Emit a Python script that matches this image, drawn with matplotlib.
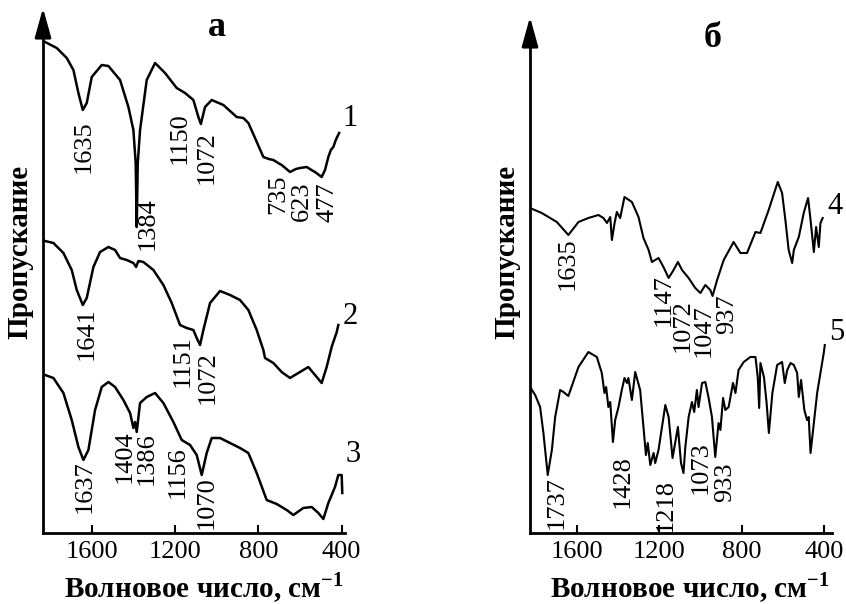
import matplotlib.pyplot as plt
import numpy as np

plt.rcParams['font.family'] = ['Liberation Serif', 'DejaVu Serif']
plt.rcParams['mathtext.fontset'] = 'custom'
plt.rcParams['mathtext.rm'] = 'Liberation Serif'
plt.rcParams['mathtext.bf'] = 'Liberation Serif:bold'

# spectrum 1 (panel a)
wn1 = [1824, 1768, 1720, 1688, 1664, 1643, 1624, 1600, 1552, 1520, 1464, 1424, 1400, 1389,
       1384, 1379, 1368, 1336, 1296, 1248, 1192, 1152, 1112, 1088, 1076, 1056, 1024, 968,
       904, 872, 848, 816, 776, 750, 728, 705, 688, 665, 648, 620, 600, 568, 545, 528, 496,
       480, 464, 452, 440, 430, 424, 412]
t1 = [491, 485, 475, 463, 440, 423, 430, 456, 468, 467, 453, 426, 403, 370,
      306, 370, 403, 453, 470, 460, 445, 440, 433, 416, 409, 426, 433, 428,
      416, 415, 410, 395, 376, 374, 373, 370, 368, 364, 361, 364, 365, 366, 363, 361, 356,
      363, 376, 383, 386, 392, 395, 400]

# spectrum 2
wn2 = [1824, 1784, 1736, 1696, 1672, 1643, 1624, 1592, 1560, 1520, 1488, 1464, 1432, 1400,
       1387, 1376, 1352, 1304, 1256, 1216, 1176, 1144, 1112, 1096, 1080, 1064, 1032, 984,
       936, 888, 848, 808, 776, 768, 728, 688, 648, 600, 560, 520, 496, 472, 448, 432, 425,
       416]
t2 = [292, 290, 280, 263, 243, 228, 235, 266, 281, 286, 283, 275, 273, 270,
      266, 272, 271, 263, 248, 230, 208, 205, 203, 195, 188, 203, 230, 242,
      238, 233, 223, 203, 183, 175, 170, 161, 155, 161, 166, 156, 150, 166, 186, 196, 200,
      208]

# spectrum 3
wn3 = [1824, 1784, 1736, 1696, 1664, 1640, 1616, 1584, 1552, 1520, 1488, 1448, 1416, 1400,
       1392, 1384, 1368, 1336, 1296, 1256, 1208, 1168, 1128, 1096, 1072, 1048, 1024, 984,
       936, 888, 848, 808, 760, 712, 664, 632, 584, 544, 512, 488, 464, 432, 416, 400, 397]
t3 = [158, 155, 140, 113, 86, 73, 83, 123, 146, 151, 146, 133, 120, 105,
      111, 101, 130, 136, 140, 130, 111, 93, 88, 78, 58, 80, 95, 95,
      90, 85, 80, 60, 33, 29, 23, 18, 25, 26, 20, 14, 30, 46, 58, 58, 40]

# spectrum 4 (panel б)
wn4 = [1827, 1770, 1697, 1641, 1592, 1544, 1495, 1471, 1454, 1438, 1430, 1417, 1406, 1390,
       1369, 1333, 1301, 1277, 1252, 1236, 1204, 1180, 1155, 1131, 1110, 1090, 1058, 1026,
       1001, 977, 953, 942, 920, 888, 840, 807, 775, 734, 710, 670, 626, 605, 589, 573, 556,
       548, 524, 500, 479, 467, 451, 440, 427, 419, 408]
t4 = [325, 320, 311, 298, 311, 315, 318, 315, 310, 316, 293, 310, 321, 315,
      336, 331, 316, 295, 283, 271, 275, 266, 255, 263, 271, 263, 255, 245,
      240, 248, 243, 237, 253, 273, 291, 280, 280, 301, 300, 323, 351, 340, 313, 283, 270,
      283, 296, 320, 335, 313, 281, 306, 286, 310, 315]

# spectrum 5
wn5 = [1827, 1802, 1778, 1762, 1741, 1721, 1705, 1681, 1665, 1641, 1592, 1544, 1503, 1479,
       1466, 1458, 1447, 1438, 1425, 1414, 1398, 1382, 1369, 1357, 1350, 1333, 1317, 1293,
       1277, 1265, 1256, 1244, 1228, 1220, 1204, 1171, 1155, 1136, 1110, 1095, 1083, 1074,
       1058, 1042, 1031, 1018, 1010, 993, 977, 961, 945, 929, 913, 904, 891, 880, 864, 843,
       831, 816, 791, 759, 734, 723, 716, 710, 693, 680, 669, 652, 629, 605, 592, 580, 564,
       548, 532, 524, 513, 497, 484, 476, 467, 451, 435, 419, 403, 398]
t5 = [146, 138, 126, 100, 58, 83, 116, 143, 141, 137, 166, 181, 176, 160,
      140, 146, 126, 131, 91, 113, 126, 143, 155, 150, 155, 133, 161, 143,
      106, 78, 90, 68, 80, 70, 83, 128, 116, 75, 106, 70, 60, 86,
      116, 131, 121, 143, 126, 150, 151, 135, 116, 76, 110, 103, 135, 123, 126, 150,
      140, 163, 171, 176, 176, 156, 125, 170, 156, 130, 100, 140, 168, 171, 150, 163, 170,
      168, 160, 136, 153, 123, 113, 116, 80, 110, 140, 160, 180, 188]

# peak labels: text, wavenumber, height
peaks_a = [('1635', 1637, 386), ('1384', 1330, 309), ('1150', 1176, 395), ('1072', 1047, 375),
           ('735', 706, 339), ('623', 590, 332), ('477', 466, 331),
           ('1641', 1623, 199), ('1151', 1162, 172), ('1072', 1042, 155),
           ('1637', 1632, 46), ('1404', 1440, 76), ('1386', 1335, 74), ('1156', 1186, 61),
           ('1070', 1047, 30)]
peaks_b = [('1635', 1642, 269), ('1147', 1181, 233), ('1072', 1089, 207), ('1047', 987, 202),
           ('937', 870, 219),
           ('1737', 1696, 30), ('1428', 1380, 51), ('1218', 1171, 28), ('1073', 1001, 65),
           ('933', 880, 51)]
nums_a = [('1', 398, 415), ('2', 394, 217), ('3', 382, 78)]
nums_b = [('4', 387, 326), ('5', 375, 200)]

fig = plt.figure(figsize=(8.46, 6.04), dpi=100)
ax1 = fig.add_axes([43/846, 71/604, 302/846, 525/604])
ax2 = fig.add_axes([530/846, 71/604, 302/846, 516/604])

def setup(ax, xlim, ymax, title, tx, ty, lx):
    ax.set_xlim(*xlim)
    ax.set_ylim(0, ymax)
    for s in ['top', 'right']:
        ax.spines[s].set_visible(False)
    ax.spines['left'].set_linewidth(2)
    ax.spines['bottom'].set_linewidth(2)
    ax.spines['left'].set_bounds(0, ymax - 20)
    ax.annotate('', xy=(0, 1), xytext=(0, 1 - 30/ymax), xycoords='axes fraction',
                arrowprops=dict(arrowstyle='-|>,head_length=0.9,head_width=0.25',
                                mutation_scale=20, color='k', lw=2, shrinkA=0, shrinkB=0))
    ax.set_yticks([])
    ax.set_xticks([1600, 1200, 800, 400])
    ax.tick_params(axis='x', direction='in', length=6, width=1.5, labelsize=19, pad=6)
    ax.set_xlabel(r'Волновое число, см$^{\mathbf{-1}}$', fontsize=21, fontweight='bold')
    ax.xaxis.set_label_coords(lx, -(37/ymax))
    ax.set_ylabel('Пропускание', fontsize=21, fontweight='bold')
    ax.yaxis.set_label_coords(-0.033, 281/ymax)
    ax.text(tx, ty, title, transform=ax.transAxes, fontsize=26, fontweight='bold',
            ha='center', va='center')

setup(ax1, (1834, 384), 525, 'а', 0.576, 0.962, 0.533)
setup(ax2, (1827, 363), 516, 'б', 0.606, 0.959, 0.53)

for w, t in [(wn1, t1), (wn2, t2), (wn3, t3)]:
    ax1.plot(w, t, color='k', lw=1.8)
for w, t in [(wn4, t4), (wn5, t5)]:
    ax2.plot(w, t, color='k', lw=1.5)

for ax, peaks, nums in [(ax1, peaks_a, nums_a), (ax2, peaks_b, nums_b)]:
    for s, x, y in peaks:
        ax.text(x, y, s, rotation=90, ha='center', va='center', fontsize=19)
    for s, x, y in nums:
        ax.text(x, y, s, ha='left', va='center', fontsize=22, clip_on=False)

fig.savefig('out.png', dpi=100)
